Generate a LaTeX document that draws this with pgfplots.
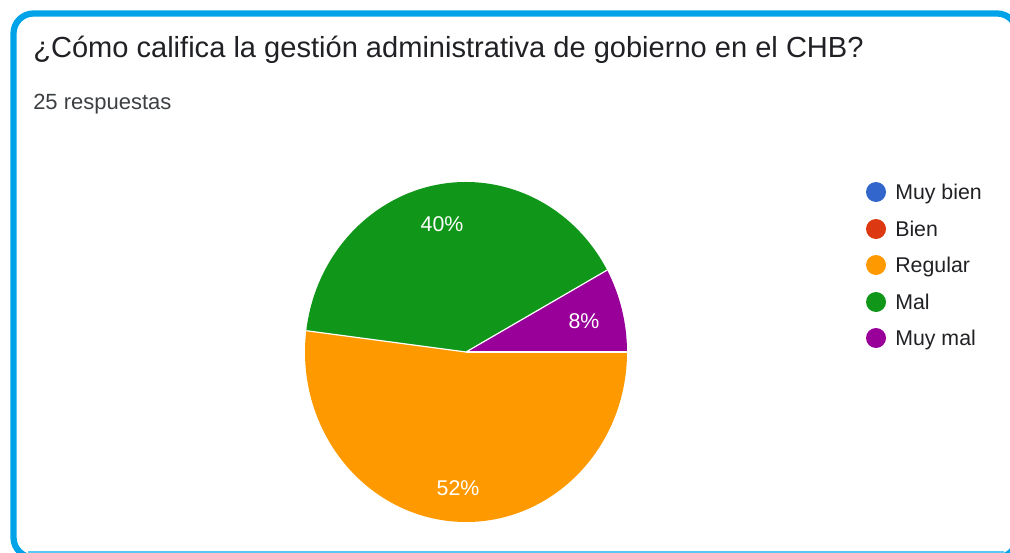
\documentclass[border=0pt]{standalone}
\usepackage{pgfplots}
\pgfplotsset{compat=1.18}
\usepackage{fontspec}
\setmainfont{Liberation Sans}
\definecolor{gblue}{HTML}{3366CC}
\definecolor{gred}{HTML}{DC3912}
\definecolor{gorange}{HTML}{FF9900}
\definecolor{ggreen}{HTML}{109618}
\definecolor{gpurple}{HTML}{990099}
\definecolor{frame}{RGB}{0,163,232}
\definecolor{framelight}{RGB}{90,200,245}
\definecolor{titletext}{HTML}{202124}
\definecolor{subtext}{HTML}{3C4043}
% values (percent) of the five answers
\def\vMuyBien{0}
\def\vBien{0}
\def\vRegular{52}
\def\vMal{40}
\def\vMuyMal{8}
\begin{document}
\begin{tikzpicture}[x=0.75pt,y=0.75pt]
\begin{axis}[
  at={(0,0)}, anchor=south west,
  scale only axis, width=757.5pt, height=414.75pt,
  xmin=0, xmax=1010, ymin=0, ymax=553, y dir=reverse,
  hide axis, clip=false]
% pie: centre (466,352), radii 161px x 170px, drawn clockwise from 3 o'clock
\pgfmathsetmacro{\aA}{0}
\pgfmathsetmacro{\aB}{-3.6*\vRegular}
\pgfmathsetmacro{\aC}{-3.6*(\vRegular+\vMal)}
\pgfmathsetmacro{\aD}{-3.6*(\vRegular+\vMal+\vMuyMal)}
\fill[gorange] (axis cs:466,352) -- ++(\aA:120.75pt and 127.5pt) arc[start angle=\aA, end angle=\aB, x radius=120.75pt, y radius=127.5pt] -- cycle;
\fill[ggreen] (axis cs:466,352) -- ++(\aB:120.75pt and 127.5pt) arc[start angle=\aB, end angle=\aC, x radius=120.75pt, y radius=127.5pt] -- cycle;
\fill[gpurple] (axis cs:466,352) -- ++(\aC:120.75pt and 127.5pt) arc[start angle=\aC, end angle=\aD, x radius=120.75pt, y radius=127.5pt] -- cycle;
\draw[white, line width=0.9pt] (axis cs:466,352) -- ++(\aA:120.75pt and 127.5pt);
\draw[white, line width=0.9pt] (axis cs:466,352) -- ++(\aB:120.75pt and 127.5pt);
\draw[white, line width=0.9pt] (axis cs:466,352) -- ++(\aC:120.75pt and 127.5pt);
% slice labels
\node[white, font=\fontsize{16}{19}\selectfont] at (axis cs:442,224) {40\%};
\node[white, font=\fontsize{16}{19}\selectfont] at (axis cs:584,321) {8\%};
\node[white, font=\fontsize{16}{19}\selectfont] at (axis cs:458,488) {52\%};
% titles
\node[anchor=base west, text=titletext, inner sep=0pt, font=\fontsize{21.8}{26}\selectfont] at (axis cs:33,57) {¿Cómo califica la gestión administrativa de gobierno en el CHB?};
\node[anchor=base west, text=subtext, inner sep=0pt, font=\fontsize{16.5}{19}\selectfont] at (axis cs:33,109) {25 respuestas};
% legend
\fill[gblue] (axis cs:876,192) circle[radius=7.5pt];
\fill[gred] (axis cs:876,229) circle[radius=7.5pt];
\fill[gorange] (axis cs:876,265) circle[radius=7.5pt];
\fill[ggreen] (axis cs:876,302) circle[radius=7.5pt];
\fill[gpurple] (axis cs:876,338) circle[radius=7.5pt];
\node[anchor=base west, inner sep=0pt, text=titletext, font=\fontsize{16}{19}\selectfont] at (axis cs:895,199.5) {Muy bien};
\node[anchor=base west, inner sep=0pt, text=titletext, font=\fontsize{16}{19}\selectfont] at (axis cs:895,236.5) {Bien};
\node[anchor=base west, inner sep=0pt, text=titletext, font=\fontsize{16}{19}\selectfont] at (axis cs:895,272.5) {Regular};
\node[anchor=base west, inner sep=0pt, text=titletext, font=\fontsize{16}{19}\selectfont] at (axis cs:895,309.5) {Mal};
\node[anchor=base west, inner sep=0pt, text=titletext, font=\fontsize{16}{19}\selectfont] at (axis cs:895,345.5) {Muy mal};
\end{axis}
% card frame, clipped to the picture
\begin{scope}
\clip (0,0) rectangle (1010,553);
\draw[frame, line width=4.7pt, rounded corners=15pt] (13.5,553-13.5) rectangle (1017,553-557.5);
\draw[framelight, line width=1.2pt] (28,1) -- (1004,1);
\end{scope}
\pgfresetboundingbox
\useasboundingbox (0,0) rectangle (1010,553);
\end{tikzpicture}
\end{document}
